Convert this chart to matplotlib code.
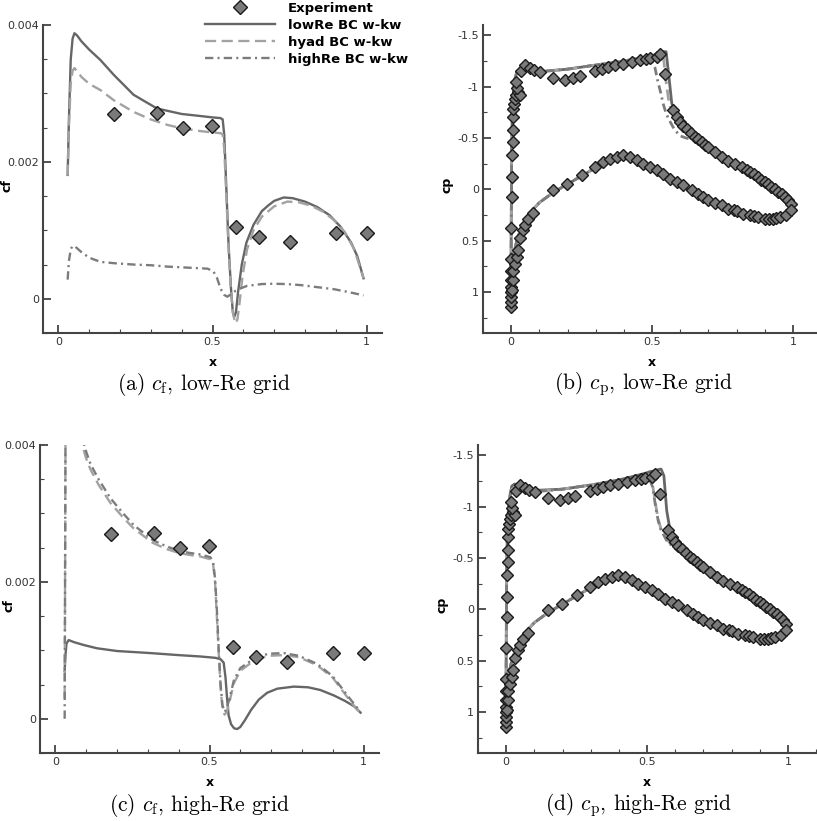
import matplotlib
matplotlib.use('Agg')
import matplotlib.pyplot as plt
from matplotlib.ticker import MultipleLocator, FixedLocator, FixedFormatter

plt.rcParams['font.family'] = ['DejaVu Sans']
plt.rcParams['mathtext.fontset'] = 'cm'
plt.rcParams['lines.scale_dashes'] = False

""" skin friction, measured """
cf_exp_x = [0.18, 0.32, 0.404, 0.499, 0.576, 0.652, 0.751, 0.902, 1.0]
cf_exp_y = [0.0027, 0.00272, 0.00249, 0.00253, 0.00105, 0.0009, 0.00083, 0.00096, 0.00096]

""" skin friction, low-Re grid """
cfa_low_x = [0.030, 0.034, 0.040, 0.046, 0.052, 0.060, 0.075, 0.10, 0.136, 0.18, 0.244, 0.32,
             0.40, 0.461, 0.50, 0.526, 0.533, 0.538, 0.545, 0.552, 0.560, 0.566, 0.571, 0.576,
             0.583, 0.595, 0.61, 0.633, 0.66, 0.68, 0.70, 0.731, 0.76, 0.80, 0.84, 0.88, 0.916,
             0.95, 0.97, 0.99]
cfa_low_y = [1.81, 2.6, 3.5, 3.8, 3.88, 3.85, 3.76, 3.64, 3.49, 3.27, 2.98, 2.78,
             2.70, 2.67, 2.65, 2.64, 2.62, 2.4, 1.6, 0.8, 0.15, -0.2, -0.26, -0.2,
             0.1, 0.5, 0.82, 1.08, 1.28, 1.36, 1.43, 1.48, 1.47, 1.42, 1.34, 1.22, 1.05,
             0.82, 0.62, 0.3]

cfa_hyad_x = [0.030, 0.034, 0.040, 0.046, 0.052, 0.060, 0.075, 0.10, 0.136, 0.18, 0.244, 0.30,
              0.354, 0.40, 0.461, 0.50, 0.526, 0.533, 0.538, 0.545, 0.552, 0.560, 0.568, 0.575,
              0.581, 0.588, 0.598, 0.612, 0.633, 0.66, 0.70, 0.743, 0.78, 0.82, 0.86, 0.894,
              0.93, 0.96, 0.99]
cfa_hyad_y = [1.8, 2.5, 3.15, 3.33, 3.37, 3.33, 3.24, 3.14, 3.05, 2.9, 2.73, 2.62,
              2.54, 2.49, 2.45, 2.43, 2.42, 2.40, 2.2, 1.5, 0.75, 0.1, -0.25, -0.36,
              -0.3, -0.05, 0.35, 0.72, 1.0, 1.2, 1.35, 1.42, 1.41, 1.36, 1.27, 1.15,
              0.97, 0.72, 0.3]

cfa_high_x = [0.030, 0.034, 0.040, 0.045, 0.055, 0.075, 0.10, 0.136, 0.18, 0.244, 0.30, 0.354,
              0.42, 0.484, 0.503, 0.515, 0.526, 0.537, 0.548, 0.558, 0.568, 0.59, 0.613, 0.633,
              0.66, 0.698, 0.74, 0.786, 0.84, 0.894, 0.94, 0.99]
cfa_high_y = [0.28, 0.55, 0.72, 0.77, 0.76, 0.68, 0.60, 0.54, 0.52, 0.50, 0.49, 0.47,
              0.455, 0.44, 0.40, 0.30, 0.15, 0.06, 0.03, 0.06, 0.1, 0.15, 0.19, 0.2,
              0.215, 0.22, 0.215, 0.2, 0.17, 0.14, 0.1, 0.05]

""" skin friction, high-Re grid """
cfc_low_x = [0.030, 0.033, 0.036, 0.043, 0.06, 0.09, 0.135, 0.2, 0.308, 0.40, 0.471, 0.52,
             0.536, 0.546, 0.552, 0.557, 0.562, 0.570, 0.580, 0.590, 0.600, 0.615, 0.635,
             0.66, 0.687, 0.72, 0.774, 0.82, 0.86, 0.904, 0.94, 0.97, 0.99]
cfc_low_y = [0.7, 0.95, 1.1, 1.15, 1.12, 1.08, 1.03, 0.99, 0.96, 0.93, 0.91, 0.89,
             0.87, 0.82, 0.6, 0.3, 0.05, -0.08, -0.14, -0.15, -0.12, -0.02, 0.13,
             0.28, 0.38, 0.44, 0.47, 0.46, 0.42, 0.34, 0.26, 0.18, 0.09]

cfc_x = [0.030, 0.031, 0.034, 0.045, 0.065, 0.087, 0.10, 0.114, 0.14, 0.179, 0.22, 0.254,
         0.316, 0.36, 0.403, 0.44, 0.471, 0.503, 0.512, 0.518, 0.525, 0.530, 0.536, 0.542,
         0.549, 0.556, 0.565, 0.579, 0.60, 0.644, 0.69, 0.741, 0.79, 0.85, 0.90, 0.958, 0.99]
cfc_hyad_y = [0.3, 1.5, 6.0, 5.5, 4.6, 4.0, 3.8, 3.64, 3.42, 3.15, 2.94, 2.78,
              2.57, 2.48, 2.42, 2.39, 2.37, 2.33, 2.25, 2.0, 1.4, 0.95, 0.45, 0.15,
              0.06, 0.1, 0.25, 0.52, 0.7, 0.85, 0.92, 0.93, 0.9, 0.78, 0.6, 0.25, 0.08]
cfc_high_y = [0.0, 1.5, 6.2, 5.7, 4.75, 4.1, 3.9, 3.72, 3.5, 3.22, 3.0, 2.83,
              2.61, 2.52, 2.45, 2.42, 2.40, 2.36, 2.28, 2.05, 1.5, 1.0, 0.5, 0.2,
              0.1, 0.15, 0.3, 0.56, 0.74, 0.88, 0.95, 0.96, 0.92, 0.8, 0.62, 0.28, 0.1]

""" pressure, measured """
cp_exp_up_x = [0.0, 0.0, 0.0, 0.0, 0.0, 0.0, 0.0, 0.0, 0.0, 0.002, 0.003, 0.004, 0.005,
               0.006, 0.006, 0.008, 0.010, 0.013, 0.016, 0.024, 0.032, 0.020, 0.018,
               0.035, 0.05, 0.067, 0.08, 0.103, 0.15, 0.19, 0.22, 0.245, 0.298, 0.321,
               0.345, 0.369, 0.398, 0.428, 0.457, 0.48, 0.493, 0.516, 0.528, 0.546, 0.576,
               0.587, 0.60, 0.611, 0.623, 0.64, 0.652, 0.664, 0.676, 0.688, 0.70, 0.724,
               0.747, 0.77, 0.794, 0.818, 0.836, 0.848, 0.862, 0.877, 0.888, 0.90, 0.912,
               0.924, 0.936, 0.948, 0.96, 0.972, 0.984, 0.995]
cp_exp_up_y = [1.15, 1.10, 1.05, 1.0, 0.95, 0.88, 0.80, 0.68, 0.38, 0.08, -0.12, -0.335,
               -0.46, -0.58, -0.70, -0.78, -0.83, -0.88, -0.92, -0.95, -0.92, -0.99, -1.04,
               -1.15, -1.21, -1.18, -1.16, -1.14, -1.08, -1.06, -1.08, -1.10, -1.15, -1.17,
               -1.19, -1.21, -1.22, -1.24, -1.255, -1.27, -1.28, -1.29, -1.32, -1.125, -0.768,
               -0.70, -0.655, -0.62, -0.59, -0.55, -0.509, -0.485, -0.46, -0.435, -0.41, -0.36,
               -0.315, -0.28, -0.25, -0.217, -0.19, -0.169, -0.145, -0.12, -0.095, -0.071,
               -0.047, -0.023, 0.0, 0.026, 0.05, 0.075, 0.105, 0.14]
cp_exp_lo_x = [0.002, 0.005, 0.008, 0.014, 0.02, 0.026, 0.032, 0.042, 0.05, 0.061, 0.079,
               0.15, 0.197, 0.25, 0.298, 0.327, 0.351, 0.375, 0.398, 0.422, 0.446, 0.469,
               0.493, 0.516, 0.54, 0.564, 0.587, 0.611, 0.641, 0.665, 0.68, 0.70, 0.725,
               0.747, 0.77, 0.79, 0.80, 0.824, 0.848, 0.862, 0.877, 0.90, 0.915, 0.93,
               0.94, 0.954, 0.977, 0.995]
cp_exp_lo_y = [0.98, 0.88, 0.80, 0.73, 0.66, 0.59, 0.47, 0.40, 0.35, 0.29, 0.23,
               0.01, -0.055, -0.136, -0.217, -0.266, -0.298, -0.315, -0.331, -0.315, -0.282,
               -0.25, -0.217, -0.185, -0.152, -0.104, -0.071, -0.039, 0.01, 0.05, 0.08,
               0.107, 0.13, 0.156, 0.188, 0.20, 0.21, 0.237, 0.253, 0.262, 0.269, 0.285,
               0.285, 0.285, 0.28, 0.269, 0.253, 0.2]

""" pressure, computed (lower side shared, upper side per model) """
cp_lo_x = [0.0, 0.002, 0.006, 0.012, 0.02, 0.03, 0.045, 0.06, 0.08, 0.10, 0.15, 0.20, 0.25,
           0.30, 0.35, 0.38, 0.40, 0.43, 0.47, 0.52, 0.57, 0.62, 0.67, 0.72, 0.77, 0.82,
           0.87, 0.92, 0.95, 0.975, 0.99, 1.0]
cp_lo_y = [1.12, 0.95, 0.75, 0.6, 0.5, 0.42, 0.33, 0.26, 0.19, 0.13, 0.03, -0.05, -0.13,
           -0.21, -0.27, -0.30, -0.31, -0.29, -0.24, -0.17, -0.09, -0.01, 0.07, 0.15, 0.21,
           0.25, 0.28, 0.30, 0.30, 0.28, 0.24, 0.18]

cp_up_x = [0.0, 0.0, 0.001, 0.002, 0.004, 0.008, 0.014, 0.02, 0.03, 0.05, 0.08, 0.12, 0.2,
           0.3, 0.4, 0.46, 0.5, 0.51, 0.52, 0.53, 0.54, 0.55, 0.56, 0.57, 0.58, 0.60, 0.62,
           0.65, 0.68, 0.72, 0.77, 0.82, 0.87, 0.92, 0.96, 0.99, 1.0]
cpb_low = [1.12, 0.5, 0.0, -0.4, -0.75, -0.95, -1.08, -1.14, -1.16, -1.16, -1.15, -1.15, -1.17,
           -1.21, -1.25, -1.28, -1.30, -1.31, -1.32, -1.33, -1.34, -1.34, -1.1, -0.84, -0.74,
           -0.65, -0.58, -0.51, -0.45, -0.37, -0.29, -0.22, -0.13, -0.03, 0.05, 0.12, 0.18]
cpb_hyad = [1.12, 0.5, 0.0, -0.4, -0.75, -0.95, -1.08, -1.14, -1.16, -1.16, -1.15, -1.15, -1.17,
            -1.21, -1.25, -1.28, -1.30, -1.31, -1.32, -1.33, -1.30, -1.05, -0.85, -0.76, -0.70,
            -0.64, -0.58, -0.51, -0.45, -0.37, -0.29, -0.22, -0.13, -0.03, 0.05, 0.12, 0.18]
cpb_high = [1.12, 0.5, 0.0, -0.4, -0.75, -0.95, -1.08, -1.14, -1.16, -1.16, -1.15, -1.15, -1.17,
            -1.21, -1.24, -1.26, -1.24, -1.19, -1.06, -0.95, -0.83, -0.74, -0.68, -0.63, -0.58,
            -0.52, -0.50, -0.48, -0.44, -0.37, -0.29, -0.22, -0.13, -0.03, 0.05, 0.12, 0.18]
cpd_low = [1.12, 0.5, 0.0, -0.4, -0.75, -0.98, -1.12, -1.2, -1.22, -1.2, -1.17, -1.16, -1.17,
           -1.21, -1.26, -1.3, -1.33, -1.34, -1.345, -1.35, -1.36, -1.365, -1.3, -0.96, -0.80,
           -0.68, -0.60, -0.51, -0.45, -0.37, -0.29, -0.22, -0.13, -0.03, 0.05, 0.12, 0.18]
cpd_hyad = [1.12, 0.5, 0.0, -0.4, -0.75, -0.96, -1.1, -1.17, -1.18, -1.17, -1.15, -1.15, -1.17,
            -1.21, -1.24, -1.27, -1.28, -1.27, -1.21, -1.03, -0.87, -0.78, -0.73, -0.68, -0.65,
            -0.60, -0.56, -0.50, -0.45, -0.37, -0.29, -0.22, -0.13, -0.03, 0.05, 0.12, 0.18]
cpd_high = [1.12, 0.5, 0.0, -0.4, -0.75, -0.96, -1.1, -1.17, -1.18, -1.17, -1.15, -1.15, -1.17,
            -1.21, -1.24, -1.27, -1.28, -1.26, -1.19, -1.01, -0.86, -0.77, -0.72, -0.67, -0.64,
            -0.59, -0.55, -0.50, -0.45, -0.37, -0.29, -0.22, -0.13, -0.03, 0.05, 0.12, 0.18]

labels = ['Experiment', 'lowRe BC w-kw', 'hyad BC w-kw', 'highRe BC w-kw']
captions = [r'(a) $c_{\mathrm{f}}$, low-Re grid', r'(b) $c_{\mathrm{p}}$, low-Re grid',
            r'(c) $c_{\mathrm{f}}$, high-Re grid', r'(d) $c_{\mathrm{p}}$, high-Re grid']


W, H = 817.0, 821.0
fig = plt.figure(figsize=(W / 100, H / 100), dpi=100)

def box(x0, y0, x1, y1):
    return [x0 / W, 1 - y1 / H, (x1 - x0) / W, (y1 - y0) / H]

ax_a = fig.add_axes(box(43, 25, 382, 333))
ax_b = fig.add_axes(box(483, 25, 821, 333))
ax_c = fig.add_axes(box(40, 445, 379, 753))
ax_d = fig.add_axes(box(478, 445, 816, 753))

SOLID = dict(color='#666666', lw=1.7, ls='-')
DASH = dict(color='#a2a2a2', lw=1.7, dashes=(8, 4))
DASHDOT = dict(color='#7c7c7c', lw=1.7, dashes=(6, 3, 1.5, 3))
EXP = dict(ls='none', marker='D', mfc='#7a7a7a', mec='#1a1a1a', mew=1.0, zorder=4)


def style(ax, kind, ylab_x=-0.087):
    for s in ['top', 'right']:
        ax.spines[s].set_visible(False)
    for s in ['left', 'bottom']:
        ax.spines[s].set_color('#444444')
        ax.spines[s].set_linewidth(1.5)
    ax.tick_params(which='both', direction='in', color='#444444', labelcolor='#333333',
                   labelsize=8, pad=3)
    ax.tick_params(which='major', length=6, width=1.3)
    ax.tick_params(which='minor', length=3, width=0.8)
    ax.xaxis.set_major_locator(FixedLocator([0, 0.5, 1]))
    ax.xaxis.set_major_formatter(FixedFormatter(['0', '0.5', '1']))
    ax.xaxis.set_minor_locator(MultipleLocator(0.1))
    if kind == 'cf':
        ax.set_xlim(-0.05, 1.05)
        ax.set_ylim(-0.0005, 0.004)
        ax.yaxis.set_major_locator(FixedLocator([0, 0.002, 0.004]))
        ax.yaxis.set_major_formatter(FixedFormatter(['0', '0.002', '0.004']))
        ax.yaxis.set_minor_locator(MultipleLocator(0.0005))
        ax.set_ylabel('cf', fontweight='bold', fontsize=9)
    else:
        ax.set_xlim(-0.1, 1.1)
        ax.set_ylim(1.4, -1.6)
        ax.yaxis.set_major_locator(FixedLocator([-1.5, -1, -0.5, 0, 0.5, 1]))
        ax.yaxis.set_major_formatter(FixedFormatter(['-1.5', '-1', '-0.5', '0', '0.5', '1']))
        ax.yaxis.set_minor_locator(MultipleLocator(0.25))
        ax.set_ylabel('cp', fontweight='bold', fontsize=9)
    ax.set_xlabel('x', fontweight='bold', fontsize=9)
    ax.yaxis.set_label_coords(ylab_x, 0.48)
    ax.xaxis.set_label_coords(0.5, -0.075)


# (a) cf, low-Re grid
h_low, = ax_a.plot(cfa_low_x, [v * 1e-3 for v in cfa_low_y], **SOLID)
h_hyad, = ax_a.plot(cfa_hyad_x, [v * 1e-3 for v in cfa_hyad_y], **DASH)
h_high, = ax_a.plot(cfa_high_x, [v * 1e-3 for v in cfa_high_y], **DASHDOT)
h_exp, = ax_a.plot(cf_exp_x, cf_exp_y, ms=7, **EXP)
style(ax_a, 'cf')

# (c) cf, high-Re grid
ax_c.plot(cfc_low_x, [v * 1e-3 for v in cfc_low_y], **SOLID)
ax_c.plot(cfc_x, [v * 1e-3 for v in cfc_hyad_y], **DASH)
ax_c.plot(cfc_x, [v * 1e-3 for v in cfc_high_y], **DASHDOT)
ax_c.plot(cf_exp_x, cf_exp_y, ms=7, **EXP)
style(ax_c, 'cf', ylab_x=-0.072)

# (b), (d) cp
for ax, cps in [(ax_b, (cpb_low, cpb_hyad, cpb_high)), (ax_d, (cpd_low, cpd_hyad, cpd_high))]:
    for cp, st in zip(cps, (SOLID, DASH, DASHDOT)):
        ax.plot(cp_up_x, cp, **dict(st, lw=2.0))
        ax.plot(cp_lo_x, cp_lo_y, **dict(st, lw=2.0))
    ax.plot(cp_exp_up_x, cp_exp_up_y, ms=6.2, **EXP)
    ax.plot(cp_exp_lo_x, cp_exp_lo_y, ms=6.2, **EXP)
    style(ax, 'cp')

fig.legend([h_exp, h_low, h_hyad, h_high], labels, loc='upper left',
           bbox_to_anchor=(205 / W, 1 - 2 / H), frameon=False, borderaxespad=0, borderpad=0,
           handlelength=5.3, handletextpad=1.0, labelspacing=0.3, numpoints=1,
           prop={'weight': 'bold', 'size': 9.5})

cap_pos = [(204, 384), (643, 384), (199, 805), (638, 805)]
for (cx, cy), txt in zip(cap_pos, captions):
    fig.text(cx / W, 1 - cy / H, txt, ha='center', va='center', fontsize=15.5, family='cmr10')

fig.savefig('out.png', dpi=100)
